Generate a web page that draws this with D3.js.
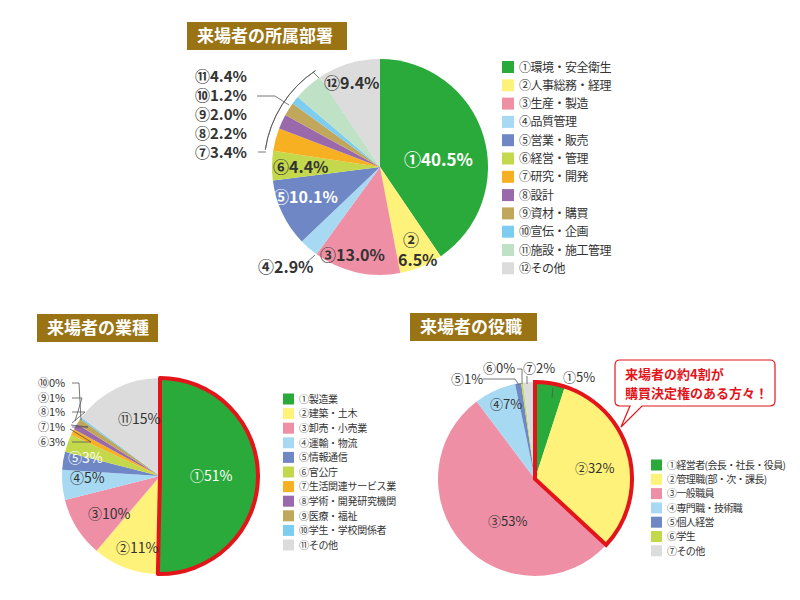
<!DOCTYPE html><html><head><meta charset="utf-8"><script src="https://cdn.jsdelivr.net/npm/d3@7"></script>
<style>body{margin:0;background:#fff}text{font-family:"Noto Sans CJK JP",sans-serif}</style></head><body>
<svg id="c" width="800" height="600"></svg>
<script>
const deptCats=["①環境・安全衛生","②人事総務・経理","③生産・製造","④品質管理","⑤営業・販売","⑥経営・管理","⑦研究・開発","⑧設計","⑨資材・購買","⑩宣伝・企画","⑪施設・施工管理","⑫その他"];
const deptVals=[40.5,6.5,13.0,2.9,10.1,4.4,3.4,2.2,2.0,1.2,4.4,9.4];
const deptCols=["#2aaa3a","#fff27a","#ef8fa6","#a7d9f3","#6f88c5","#c4d84b","#f6b022","#9a69ab","#c1a75b","#7ccdf0","#bfe1c5","#dcdcdc"];
const indCats=["①製造業","②建築・土木","③卸売・小売業","④運輸・物流","⑤情報通信","⑥官公庁","⑦生活関連サービス業","⑧学術・開発研究機関","⑨医療・福祉","⑩学生・学校関係者","⑪その他"];
const indVals=[51,11,10,5,3,3,1,1,1,0.3,15];
const indCols=["#2aaa3a","#fff27a","#ef8fa6","#a7d9f3","#6f88c5","#c4d84b","#f6b022","#9a69ab","#c1a75b","#7ccdf0","#dcdcdc"];
const posCats=["①経営者(会長・社長・役員)","②管理職(部・次・課長)","③一般職員","④専門職・技術職","⑤個人経営","⑥学生","⑦その他"];
const posVals=[5,32,53,7,1,0.3,2];
const posCols=["#2aaa3a","#fff27a","#ef8fa6","#a7d9f3","#6f88c5","#c4d84b","#dcdcdc"];

const svg=d3.select("#c");
function title(x,y,w,t){const g=svg.append("g");g.append("rect").attr("x",x).attr("y",y).attr("width",w).attr("height",28).attr("fill","#9a7314");
g.append("text").attr("x",x+10).attr("y",y+20).attr("fill","#fff").attr("font-size",17).attr("font-weight","bold").text(t);}
title(187,22,160,"来場者の所属部署");title(37,314,121,"来場者の業種");title(410,313,127,"来場者の役職");

function pie(cx,cy,r,vals,cols){
  const arcs=d3.pie().sort(null).value(d=>d)(vals);
  const g=svg.append("g").attr("transform",`translate(${cx},${cy})`);
  const a=d3.arc().innerRadius(0).outerRadius(r);
  g.selectAll("path").data(arcs).join("path").attr("d",a).attr("fill",(d,i)=>cols[i]);
  return {g,arcs,a};
}
function legend(x,y,dy,cats,cols,fs,sz,ls){
  const g=svg.append("g");
  cats.forEach((c,i)=>{g.append("rect").attr("x",x).attr("y",y+i*dy-sz/2).attr("width",sz).attr("height",sz).attr("fill",cols[i]);
  g.append("text").attr("x",x+sz+5).attr("y",y+i*dy+fs*0.38).attr("font-size",fs).attr("letter-spacing",ls||0).attr("fill","#333").text(c);});
}
function lab(x,y,t,o={}){svg.append("text").attr("x",x).attr("y",y).attr("font-size",o.fs||16).attr("font-weight",o.w||"bold").attr("fill",o.c||"#333").attr("text-anchor",o.a||"start").text(t);}
function line(pts){svg.append("path").attr("d",d3.line()(pts)).attr("fill","none").attr("stroke","#555").attr("stroke-width",0.8);}

// Pie 1
pie(380,167,108,deptVals,deptCols);
legend(502,67,18.3,deptCats,deptCols,12,12,-0.5);
lab(404,166,"①40.5%",{c:"#fff",fs:17});
lab(403,246,"②");lab(398,266,"6.5%");
lab(320,261,"③13.0%");
lab(258,273,"④2.9%");line([[306,263],[315,255]]);
lab(273,203,"⑤10.1%",{c:"#fff"});
lab(273,173,"⑥4.4%");
lab(324,89,"⑫9.4%");
const leftL=["⑪4.4%","⑩1.2%","⑨2.0%","⑧2.2%","⑦3.4%"];const ly=[82,101,120,139,158];
leftL.forEach((t,i)=>lab(195,ly[i],t,{fs:15}));
{const arcs=d3.pie().sort(null)(deptVals);const br=d3.arc().innerRadius(116).outerRadius(116).startAngle(arcs[6].startAngle).endAngle(arcs[10].endAngle);
svg.append("path").attr("transform","translate(380,167)").attr("d",br()).attr("fill","none").attr("stroke","#555").attr("stroke-width",0.8);}
line([[258,152],[266,152]]);line([[313,72],[319,78]]);line([[257,96],[275,96],[289,105]]);

// Pie 2
const p2=pie(160,476,98,indVals,indCols);
p2.g.append("path").attr("d",d3.arc().innerRadius(0).outerRadius(98)({startAngle:p2.arcs[0].startAngle,endAngle:p2.arcs[0].endAngle})).attr("fill","none").attr("stroke","#e4141b").attr("stroke-width",4).attr("stroke-linejoin","round");
legend(283,399,14.6,indCats,indCols,10,11,-0.3);
lab(190,481,"①51%",{c:"#fff",fs:14,w:"normal"});
lab(116,553,"②11%",{fs:14,w:"normal"});
lab(88,519,"③10%",{fs:14,w:"normal"});
lab(70,483,"④5%",{fs:14,w:"normal"});
lab(68,463,"⑤3%",{fs:14,w:"normal",c:"#fff"});
lab(118,424,"⑪15%",{fs:14,w:"normal"});
const sm=["⑩0%","⑨1%","⑧1%","⑦1%","⑥3%"];const sy=[387,402,416,431,446];const ex=[[81,420],[75,421],[72,423],[71,425],[70,429]];
sm.forEach((t,i)=>{lab(38,sy[i],t,{fs:11,w:"normal"});line([[72,sy[i]-4],[77+i*3-10+12,sy[i]-4],ex[i]]);});

// Pie 3
const p3=pie(535,479,97,posVals,posCols);
p3.g.append("path").attr("d",d3.arc().innerRadius(0).outerRadius(97)({startAngle:0,endAngle:p3.arcs[1].endAngle})).attr("fill","none").attr("stroke","#e4141b").attr("stroke-width",4).attr("stroke-linejoin","miter");
legend(651,465,14.3,posCats,posCols,10,11,-0.6);
lab(563,382,"①5%",{fs:13,w:"normal"});line([[553,388],[552,398]]);
lab(575,473,"②32%",{fs:13,w:"normal"});
lab(488,526,"③53%",{fs:13,w:"normal"});
lab(490,409,"④7%",{fs:13,w:"normal"});
lab(451,384,"⑤1%",{fs:13,w:"normal"});line([[483,379],[515,379],[519,385]]);
lab(483,373,"⑥0%",{fs:13,w:"normal"});line([[517,369],[522,369],[522,384]]);
lab(523,373,"⑦2%",{fs:13,w:"normal"});line([[527,376],[527,384]]);
svg.append("path").attr("d","M620,360 H770 Q775,360 775,365 V401 Q775,406 770,406 H642 L621,427 L630,406 H620 Q615,406 615,401 V365 Q615,360 620,360 Z").attr("fill","#fff").attr("stroke","#e4141b").attr("stroke-width",1.2);
lab(625,379,"来場者の約4割が",{fs:13,c:"#e4141b"});
lab(625,398,"購買決定権のある方々！",{fs:13,c:"#e4141b"});
</script></body></html>
